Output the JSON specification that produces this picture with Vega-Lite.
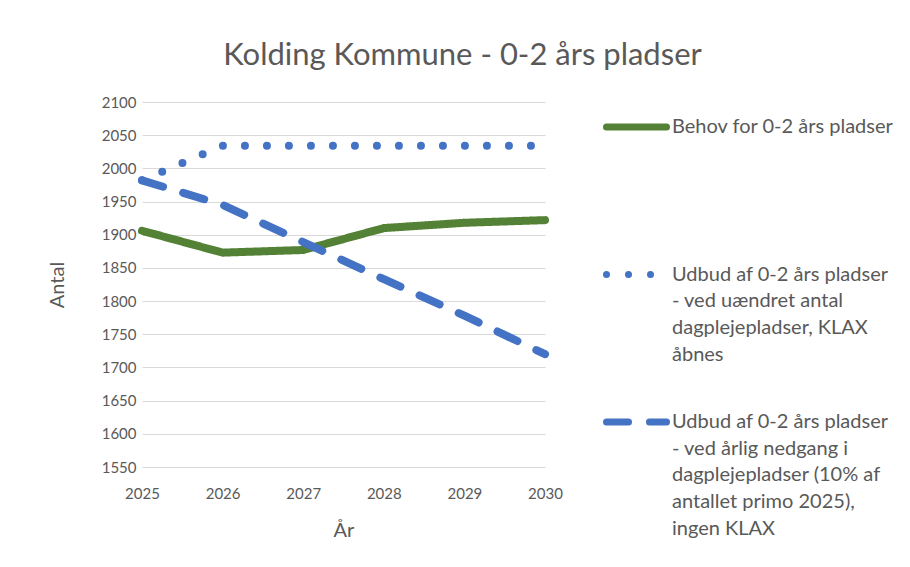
{
  "$schema": "https://vega.github.io/schema/vega-lite/v6.json",
  "width": 403,
  "height": 365,
  "autosize": {"type": "none"},
  "padding": {"left": 142, "top": 102, "right": 365, "bottom": 100},
  "background": "white",
  "config": {
    "font": "Lato",
    "view": {"stroke": null},
    "axis": {"labelColor": "#595959", "titleColor": "#595959", "labelFont": "Lato", "titleFont": "Lato"}
  },
  "title": {
    "text": "Kolding Kommune - 0-2 års pladser",
    "fontSize": 31,
    "fontWeight": "normal",
    "color": "#595959",
    "font": "Lato",
    "anchor": "middle",
    "dx": 119,
    "dy": 41,
    "baseline": "alphabetic",
    "offset": 40
  },
  "data": {
    "values": [
      {"aar": 2025, "antal": 1906, "serie": "Behov for 0-2 års pladser"},
      {"aar": 2026, "antal": 1873, "serie": "Behov for 0-2 års pladser"},
      {"aar": 2027, "antal": 1877, "serie": "Behov for 0-2 års pladser"},
      {"aar": 2028, "antal": 1910, "serie": "Behov for 0-2 års pladser"},
      {"aar": 2029, "antal": 1918, "serie": "Behov for 0-2 års pladser"},
      {"aar": 2030, "antal": 1922, "serie": "Behov for 0-2 års pladser"},
      {"aar": 2025, "antal": 1982, "serie": "Udbud af 0-2 års pladser|- ved uændret antal|dagplejepladser, KLAX|åbnes"},
      {"aar": 2026, "antal": 2034, "serie": "Udbud af 0-2 års pladser|- ved uændret antal|dagplejepladser, KLAX|åbnes"},
      {"aar": 2027, "antal": 2034, "serie": "Udbud af 0-2 års pladser|- ved uændret antal|dagplejepladser, KLAX|åbnes"},
      {"aar": 2028, "antal": 2034, "serie": "Udbud af 0-2 års pladser|- ved uændret antal|dagplejepladser, KLAX|åbnes"},
      {"aar": 2029, "antal": 2034, "serie": "Udbud af 0-2 års pladser|- ved uændret antal|dagplejepladser, KLAX|åbnes"},
      {"aar": 2030, "antal": 2034, "serie": "Udbud af 0-2 års pladser|- ved uændret antal|dagplejepladser, KLAX|åbnes"},
      {"aar": 2025, "antal": 1982, "serie": "Udbud af 0-2 års pladser|- ved årlig nedgang i|dagplejepladser (10% af|antallet primo 2025),|ingen KLAX"},
      {"aar": 2026, "antal": 1945, "serie": "Udbud af 0-2 års pladser|- ved årlig nedgang i|dagplejepladser (10% af|antallet primo 2025),|ingen KLAX"},
      {"aar": 2027, "antal": 1889, "serie": "Udbud af 0-2 års pladser|- ved årlig nedgang i|dagplejepladser (10% af|antallet primo 2025),|ingen KLAX"},
      {"aar": 2028, "antal": 1833, "serie": "Udbud af 0-2 års pladser|- ved årlig nedgang i|dagplejepladser (10% af|antallet primo 2025),|ingen KLAX"},
      {"aar": 2029, "antal": 1778, "serie": "Udbud af 0-2 års pladser|- ved årlig nedgang i|dagplejepladser (10% af|antallet primo 2025),|ingen KLAX"},
      {"aar": 2030, "antal": 1720, "serie": "Udbud af 0-2 års pladser|- ved årlig nedgang i|dagplejepladser (10% af|antallet primo 2025),|ingen KLAX"}
    ]
  },
  "mark": {"type": "line", "strokeWidth": 8, "strokeCap": "round", "clip": false},
  "encoding": {
    "x": {
      "field": "aar",
      "type": "quantitative",
      "title": "År",
      "scale": {"domain": [2025, 2030], "nice": false, "zero": false},
      "axis": {
        "values": [2025, 2026, 2027, 2028, 2029, 2030],
        "format": "d",
        "grid": false,
        "ticks": false,
        "domain": false,
        "labelFlush": false,
        "labelFontSize": 15,
        "labelPadding": 19,
        "titleFontSize": 20,
        "titleFontWeight": "normal",
        "titlePadding": 19
      }
    },
    "y": {
      "field": "antal",
      "type": "quantitative",
      "title": "Antal",
      "scale": {"domain": [1550, 2100], "nice": false, "zero": false},
      "axis": {
        "values": [1550, 1600, 1650, 1700, 1750, 1800, 1850, 1900, 1950, 2000, 2050, 2100],
        "format": "d",
        "grid": true,
        "gridColor": "#d9d9d9",
        "gridWidth": 1,
        "ticks": false,
        "domain": false,
        "labelFontSize": 15,
        "labelPadding": 6,
        "titleFontSize": 20,
        "titleFontWeight": "normal",
        "titlePadding": 34
      }
    },
    "color": {
      "field": "serie",
      "type": "nominal",
      "scale": {"range": ["#538135", "#4472C4", "#4472C4"]},
      "legend": {
        "title": null,
        "orient": "none",
        "legendX": 467,
        "legendY": -2.5,
        "symbolType": "M-1.25,0L1.25,0",
        "symbolSize": 2304,
        "symbolStrokeWidth": 7,
        "symbolFillColor": "transparent",
        "labelFontSize": 20,
        "labelColor": "#595959",
        "labelFont": "Lato",
        "labelLimit": 400,
        "labelOffset": 8,
        "labelBaseline": "top",
        "labelExpr": "split(datum.label, '|')",
        "rowPadding": 2.5,
        "gridAlign": "all",
        "encoding": {
          "symbols": {
            "strokeCap": {"value": "round"},
            "fill": {"value": "transparent"}
          },
          "labels": {"lineHeight": {"value": 26.7}, "dy": {"value": -10}}
        }
      }
    },
    "strokeDash": {
      "field": "serie",
      "type": "nominal",
      "scale": {"range": [[1, 0], [0, 22], [22, 21]]}
    }
  }
}
